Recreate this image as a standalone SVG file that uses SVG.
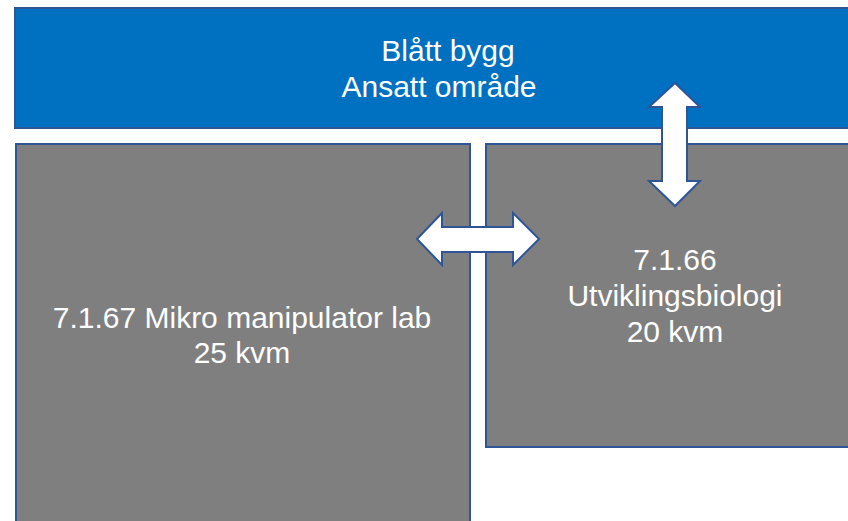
<svg xmlns="http://www.w3.org/2000/svg" width="848" height="521" viewBox="0 0 848 521">
<style>
.room{fill:#7f7f7f;stroke:#2f5597;stroke-width:2}
.blue{fill:#0070c0;stroke:#2f5597;stroke-width:2}
.arrow{fill:#ffffff;stroke:#2f5597;stroke-width:2;stroke-linejoin:miter}
text{font-family:"Liberation Sans",Arial,sans-serif;font-size:30px;fill:#ffffff;text-anchor:middle}
</style>
<rect width="848" height="521" fill="#ffffff"/>
<g id="blatt-bygg">
<rect class="blue" x="15" y="8" width="845" height="120"/>
<text x="448" y="61">Blått bygg</text>
<text x="439" y="97">Ansatt område</text>
</g>
<g id="room-7-1-67">
<rect class="room" x="16" y="144" width="454" height="390"/>
<text x="242" y="328">7.1.67 Mikro manipulator lab</text>
<text x="242" y="363">25 kvm</text>
</g>
<g id="room-7-1-66">
<rect class="room" x="486" y="144" width="374" height="303"/>
<text x="675" y="270">7.1.66</text>
<text x="675" y="306">Utviklingsbiologi</text>
<text x="675" y="342">20 kvm</text>
</g>
<g id="connectors">
<polygon class="arrow" points="417,239 442,213 442,227 513,227 513,213 539,239 513,265 513,252 442,252 442,265"/>
<polygon class="arrow" points="675,83 700,107 687,107 687,181 700,181 675,206 649,181 662,181 662,107 649,107"/>
</g>
</svg>
